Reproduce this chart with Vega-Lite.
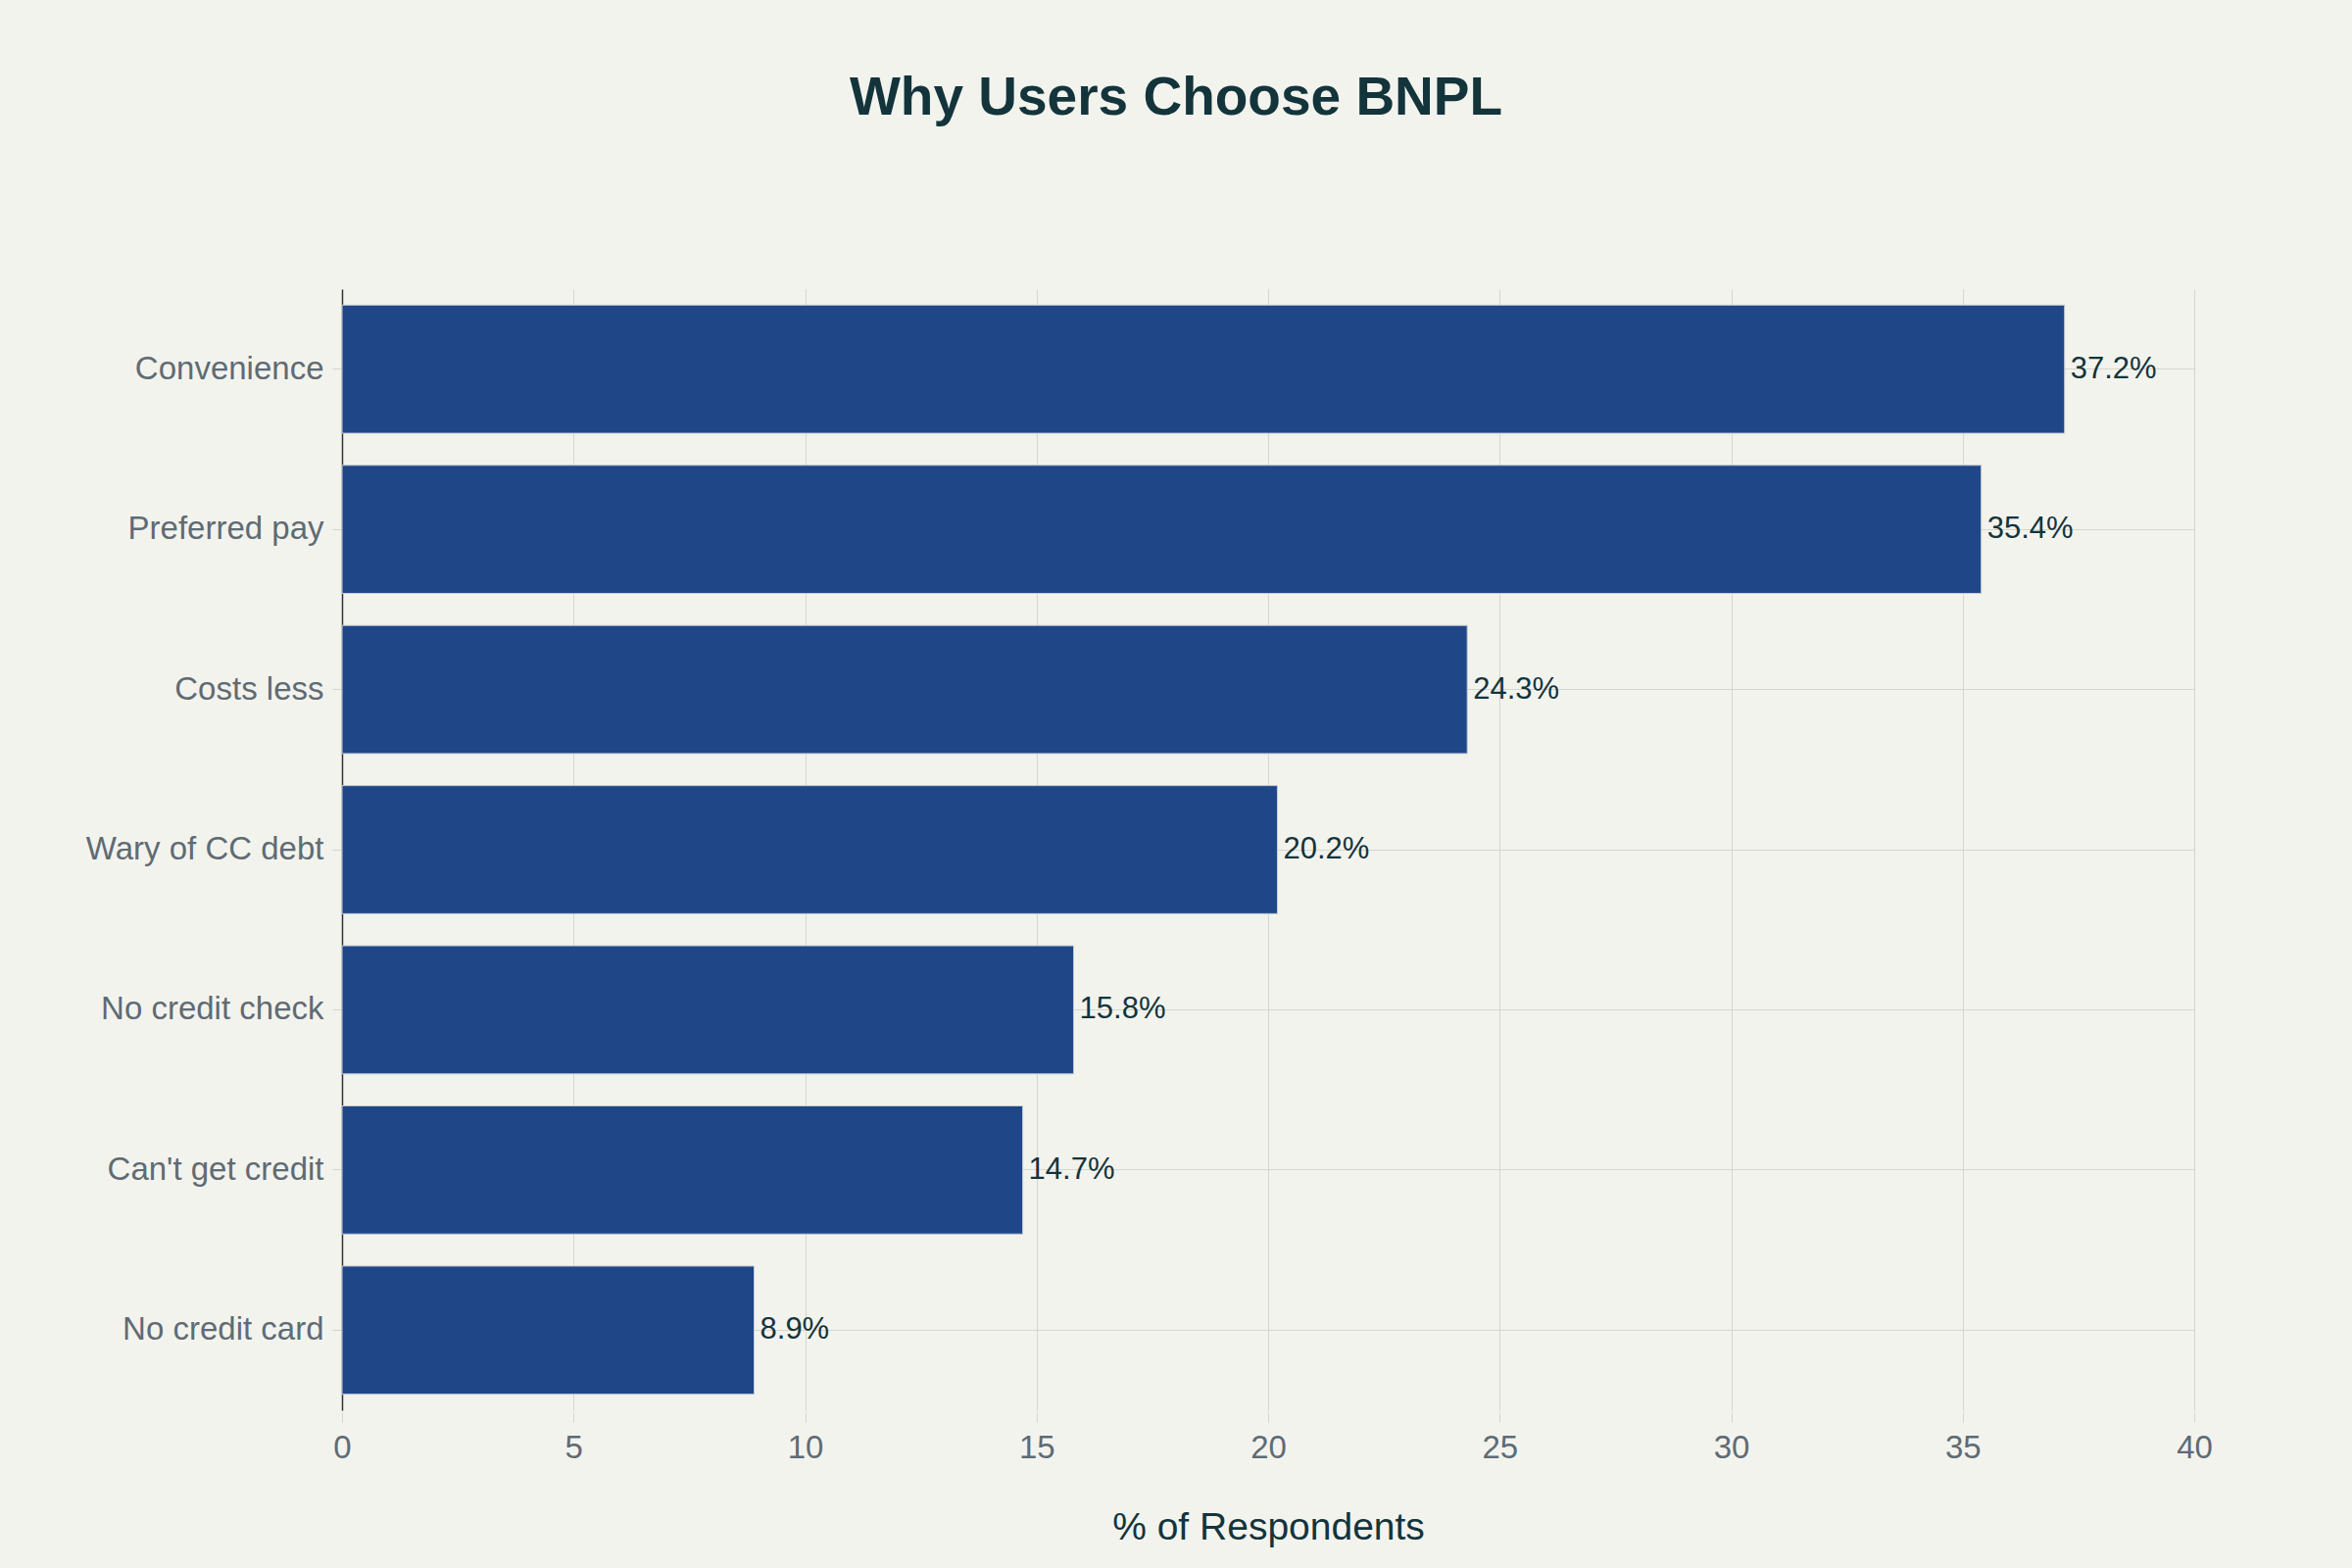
{
  "$schema": "https://vega.github.io/schema/vega-lite/v6.json",
  "width": 1890,
  "height": 1144,
  "autosize": {"type": "none"},
  "padding": {"left": 349, "top": 295, "right": 161, "bottom": 161},
  "background": "#F3F3EE",
  "title": {
    "text": "Why Users Choose BNPL",
    "anchor": "middle",
    "dx": -94,
    "offset": 166,
    "fontSize": 55,
    "font": "Liberation Sans",
    "fontWeight": "bold",
    "color": "#13343B"
  },
  "config": {
    "view": {"stroke": null},
    "font": "Liberation Sans"
  },
  "data": {
    "values": [
      {"reason": "Convenience", "pct": 37.2},
      {"reason": "Preferred pay", "pct": 35.4},
      {"reason": "Costs less", "pct": 24.3},
      {"reason": "Wary of CC debt", "pct": 20.2},
      {"reason": "No credit check", "pct": 15.8},
      {"reason": "Can't get credit", "pct": 14.7},
      {"reason": "No credit card", "pct": 8.9}
    ]
  },
  "transform": [
    {"calculate": "format(datum.pct, '.1f') + '%'", "as": "label"}
  ],
  "encoding": {
    "y": {
      "field": "reason",
      "type": "nominal",
      "sort": null,
      "scale": {"paddingInner": 0.2, "paddingOuter": 0.1},
      "axis": {
        "title": null,
        "labelFontSize": 33,
        "labelColor": "#5F6B73",
        "labelPadding": 9,
        "labelLimit": 0,
        "tickSize": 10,
        "tickColor": "#D3D3CF",
        "domainColor": "#333333",
        "domainWidth": 1.5,
        "grid": true,
        "gridColor": "#D6D6D1",
        "gridWidth": 1
      }
    },
    "x": {
      "field": "pct",
      "type": "quantitative",
      "scale": {"domain": [0, 40], "nice": false},
      "axis": {
        "title": "% of Respondents",
        "titleFontSize": 39,
        "titleFontWeight": "normal",
        "titleColor": "#13343B",
        "titlePadding": 45,
        "values": [0, 5, 10, 15, 20, 25, 30, 35, 40],
        "labelFontSize": 33,
        "labelColor": "#5F6B73",
        "labelPadding": 10,
        "labelFlush": false,
        "tickSize": 10,
        "tickColor": "#D3D3CF",
        "domain": false,
        "offset": 2,
        "grid": true,
        "gridColor": "#D6D6D1",
        "gridWidth": 1
      }
    }
  },
  "layer": [
    {
      "mark": {"type": "bar", "color": "#1F4788", "stroke": "#C5CBD3", "strokeWidth": 1}
    },
    {
      "mark": {"type": "text", "align": "left", "baseline": "middle", "dx": 6, "fontSize": 31, "color": "#13343B"},
      "encoding": {"text": {"field": "label"}}
    }
  ]
}
